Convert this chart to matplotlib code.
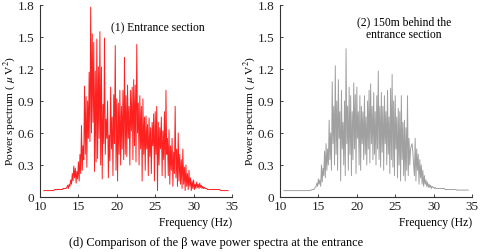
import numpy as np
import matplotlib
matplotlib.use("Agg")
import matplotlib.pyplot as plt

plt.rcParams['font.family'] = ['Liberation Serif', 'DejaVu Serif']
plt.rcParams['mathtext.fontset'] = 'stix'

f_start = 10.5
f_step = 0.1

entrance = [
    0.06,0.06,0.06,0.06,0.06,0.06,0.06,0.06,0.06,0.06,
    0.06,0.06,0.06,0.06,0.07,0.07,0.07,0.07,0.07,0.07,
    0.07,0.07,0.07,0.07,0.07,0.08,0.08,0.08,0.08,0.08,
    0.09,0.11,0.08,0.12,0.10,0.16,0.12,0.22,0.15,0.29,
    0.18,0.27,0.13,0.24,0.17,0.33,0.15,0.40,0.22,0.67,
    0.25,0.48,0.35,1.04,0.40,0.94,0.28,0.90,0.55,1.17,
    0.52,1.78,0.60,1.53,0.70,1.45,0.24,1.18,0.33,1.48,
    0.36,1.22,0.55,1.55,0.30,1.22,0.17,0.87,0.50,1.49,
    0.40,0.73,0.55,0.90,0.18,0.58,0.34,1.03,0.45,0.75,
    0.20,0.96,0.50,1.42,0.25,0.92,0.15,0.88,0.40,1.00,
    0.30,0.85,0.45,1.00,0.35,1.31,0.40,0.95,0.38,1.05,
    0.55,0.85,0.30,1.00,0.62,1.03,0.35,1.10,0.48,1.05,
    0.33,1.43,0.60,0.88,0.30,0.95,0.45,0.85,0.15,0.92,
    0.40,0.75,0.25,0.76,0.45,0.68,0.20,0.74,0.38,0.65,
    0.22,0.70,0.48,0.78,0.15,0.80,0.40,0.85,0.06,0.70,
    0.30,0.65,0.45,0.75,0.20,0.62,0.35,0.80,0.18,1.00,
    0.40,0.55,0.20,0.63,0.12,0.48,0.25,0.55,0.10,0.42,
    0.22,0.85,0.18,0.45,0.10,0.60,0.15,0.40,0.12,0.35,
    0.08,0.45,0.12,0.28,0.06,0.30,0.10,0.22,0.07,0.25,
    0.10,0.18,0.06,0.15,0.08,0.16,0.07,0.12,0.08,0.14,
    0.09,0.12,0.08,0.13,0.09,0.11,0.08,0.10,0.08,0.09,
    0.08,0.08,0.08,0.07,0.07,0.07,0.07,0.07,0.07,0.07,
    0.07,0.07,0.07,0.07,0.07,0.07,0.07,0.07,0.07,0.07,
    0.06,0.06,0.06,0.06,0.06,0.06,0.06,0.06,0.06,0.06,0.06,
]

behind_150m = [
    0.06,0.06,0.06,0.06,0.06,0.06,0.06,0.06,0.06,0.06,
    0.06,0.06,0.06,0.06,0.06,0.06,0.06,0.06,0.06,0.06,
    0.06,0.06,0.06,0.06,0.06,0.06,0.06,0.06,0.06,0.06,
    0.06,0.06,0.06,0.06,0.06,0.065,0.065,0.07,0.07,0.07,
    0.08,0.09,0.10,0.13,0.10,0.17,0.12,0.16,0.10,0.30,
    0.14,0.27,0.20,0.43,0.18,0.50,0.25,0.45,0.30,0.72,
    0.35,0.60,0.25,1.08,0.50,0.85,0.30,1.23,0.40,0.90,
    0.25,1.10,0.55,0.80,0.15,1.00,0.45,0.70,0.30,0.90,
    0.20,1.39,0.50,0.85,0.25,1.03,0.40,0.95,0.20,0.80,
    0.35,1.07,0.45,0.96,0.22,1.03,0.55,0.80,0.30,0.95,
    0.25,0.85,0.50,0.80,0.35,0.95,0.40,0.75,0.30,0.90,
    0.45,1.00,0.32,1.06,0.50,0.85,0.35,0.98,0.40,0.80,
    0.30,0.95,0.45,1.18,0.35,0.85,0.28,0.98,0.42,0.85,
    0.25,0.95,0.50,0.80,0.30,1.00,0.40,0.75,0.22,1.02,
    0.35,1.15,0.28,0.90,0.20,0.95,0.45,0.75,0.18,0.83,
    0.30,0.80,0.15,0.95,0.35,0.70,0.20,0.72,0.15,0.65,
    0.25,0.95,0.20,0.55,0.30,0.45,0.48,0.50,0.42,0.30,
    0.20,0.55,0.15,0.45,0.25,0.40,0.12,0.35,0.18,0.30,
    0.12,0.25,0.10,0.20,0.12,0.16,0.10,0.14,0.09,0.12,
    0.09,0.11,0.08,0.10,0.09,0.09,0.08,0.09,0.08,0.08,
    0.08,0.08,0.08,0.08,0.08,0.08,0.08,0.08,0.08,0.08,
    0.07,0.07,0.07,0.07,0.07,0.07,0.07,0.07,0.07,0.07,
    0.07,0.07,0.07,0.07,0.07,0.065,0.065,0.065,0.065,0.065,
    0.065,0.065,0.065,0.065,0.065,0.065,0.065,0.065,0.065,0.065,0.065,
]

x_ticks = [10, 15, 20, 25, 30, 35]
y_ticks = [0, 0.3, 0.6, 0.9, 1.2, 1.5, 1.8]
y_tick_labels = ['0', '0.3', '0.6', '0.9', '1.2', '1.5', '1.8']

panels = [
    (entrance, '#ff2020', '(1) Entrance section', 25.4),
    (behind_150m, '#a0a0a0', '(2) 150m behind the\nentrance section', 26.1),
]

fig = plt.figure(figsize=(4.8, 2.52), dpi=100)
lefts = [40 / 480, 280 / 480]
for (vals, color, label, tx), left in zip(panels, lefts):
    ax = fig.add_axes([left, 1 - 197 / 252, 192 / 480, 192 / 252])
    freq = f_start + f_step * np.arange(len(vals))
    ax.plot(freq, vals, color=color, lw=0.7)
    ax.set_xlim(10, 35)
    ax.set_ylim(0, 1.8)
    ax.set_xticks(x_ticks)
    ax.set_yticks(y_ticks)
    ax.set_yticklabels(y_tick_labels)
    for s in ['top', 'right']:
        ax.spines[s].set_visible(False)
    for s in ['left', 'bottom']:
        ax.spines[s].set_linewidth(0.8)
        ax.spines[s].set_color('#333333')
    ax.tick_params(direction='in', length=2, width=0.6, labelsize=9.5, colors='#222222')
    ax.tick_params(axis='y', pad=4)
    ax.tick_params(axis='x', pad=3)
    ax.set_ylabel('Power spectrum ( $\\mu$ V$^2$)', fontsize=8.2)
    ax.yaxis.set_label_coords(-22 / 192, 0.45)
    ax.set_xlabel('Frequency (Hz)', fontsize=8.4, loc='right', labelpad=3)
    ax.text(tx, 1.58, label, fontsize=8.4,
            ha='center', va='center', linespacing=1.1)

fig.text(216 / 480, 1 - 243 / 252, '(d) Comparison of the \u03b2 wave power spectra at the entrance',
         fontsize=8.8, ha='center', va='center')

fig.savefig('out.png', dpi=100)
